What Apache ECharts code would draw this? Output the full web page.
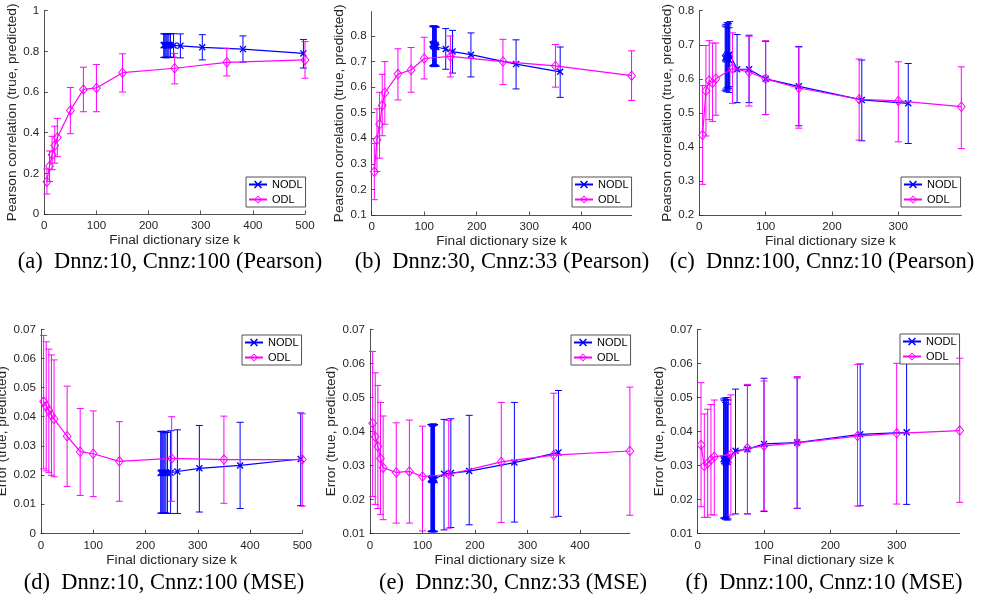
<!DOCTYPE html>
<html><head><meta charset="utf-8">
<script src="https://cdn.jsdelivr.net/npm/echarts@6/dist/echarts.min.js"></script>
<style>html,body{margin:0;padding:0;background:#fff}#c{width:985px;height:605px}</style>
</head><body><div id="c"></div>
<script>
// ---------- data ----------
const kOdlAD  = [5,10,15,20,25,50,75,100,150,250,350,500];
const kNodlAD = [229,231,233,235,237,239,242,248,261,303,381,497];
const aNodlMean = [0.830,0.833,0.829,0.831,0.828,0.832,0.830,0.829,0.827,0.820,0.811,0.790];
const aNodlLow  = [0.770,0.772,0.768,0.771,0.769,0.772,0.770,0.771,0.768,0.758,0.747,0.718];
const aNodlHigh = [0.886,0.888,0.885,0.887,0.884,0.888,0.886,0.887,0.886,0.882,0.876,0.858];
const aOdlMean  = [0.159,0.235,0.292,0.337,0.376,0.509,0.613,0.620,0.695,0.717,0.746,0.758];
const aOdlLow   = [0.098,0.160,0.218,0.250,0.282,0.395,0.503,0.503,0.600,0.640,0.679,0.668];
const aOdlHigh  = [0.222,0.310,0.382,0.432,0.470,0.622,0.722,0.735,0.788,0.790,0.815,0.848];

const dNodlMean = [0.0207,0.0209,0.0206,0.0208,0.0207,0.0209,0.0207,0.0208,0.0212,0.0223,0.0233,0.0255];
const dNodlLow  = [0.0069,0.0070,0.0068,0.0070,0.0069,0.0070,0.0068,0.0068,0.0068,0.0073,0.0085,0.0095];
const dNodlHigh = [0.0349,0.0350,0.0348,0.0350,0.0345,0.0348,0.0346,0.0352,0.0355,0.0370,0.0381,0.0413];
const dOdlMean  = [0.0452,0.0437,0.0421,0.0405,0.0392,0.0333,0.0280,0.0273,0.0247,0.0257,0.0253,0.0253];
const dOdlLow   = [0.0221,0.0214,0.0208,0.0199,0.0194,0.0161,0.0130,0.0126,0.0110,0.0110,0.0103,0.0093];
const dOdlHigh  = [0.0679,0.0657,0.0632,0.0612,0.0595,0.0505,0.0428,0.0420,0.0383,0.0400,0.0402,0.0410];

const kOdlBE  = [5,10,15,20,25,50,75,100,150,250,350,495];
const kNodlBE = [116,117,118,119,120,121,122,123,141,154,189,275,359];
const bNodlMean = [0.768,0.764,0.760,0.770,0.758,0.762,0.765,0.757,0.749,0.739,0.727,0.690,0.660];
const bNodlLow  = [0.683,0.685,0.680,0.688,0.682,0.684,0.686,0.681,0.670,0.655,0.640,0.593,0.560];
const bNodlHigh = [0.838,0.836,0.840,0.839,0.835,0.837,0.838,0.834,0.829,0.822,0.812,0.785,0.757];
const bOdlMean  = [0.269,0.393,0.455,0.528,0.578,0.651,0.667,0.712,0.720,0.700,0.683,0.645];
const bOdlLow   = [0.160,0.270,0.322,0.410,0.455,0.550,0.580,0.632,0.640,0.610,0.600,0.548];
const bOdlHigh  = [0.380,0.515,0.580,0.650,0.700,0.750,0.755,0.795,0.800,0.787,0.767,0.742];

const eNodlMean = [0.0260,0.0257,0.0259,0.0262,0.0256,0.0258,0.0261,0.0257,0.0275,0.0277,0.0283,0.0308,0.0338];
const eNodlLow  = [0.0105,0.0107,0.0104,0.0106,0.0108,0.0105,0.0104,0.0106,0.0110,0.0117,0.0125,0.0133,0.0150];
const eNodlHigh = [0.0420,0.0418,0.0421,0.0415,0.0419,0.0422,0.0417,0.0420,0.0435,0.0437,0.0447,0.0485,0.0520];
const eOdlMean  = [0.0424,0.0384,0.0355,0.0320,0.0293,0.0279,0.0282,0.0267,0.0273,0.0310,0.0330,0.0342];
const eOdlLow   = [0.0208,0.0185,0.0173,0.0155,0.0140,0.0130,0.0130,0.0107,0.0115,0.0132,0.0147,0.0153];
const eOdlHigh  = [0.0635,0.0572,0.0535,0.0485,0.0445,0.0425,0.0433,0.0415,0.0432,0.0485,0.0512,0.0530];

const kOdlCF  = [5,10,15,20,25,50,75,100,150,241,300,395];
const kNodlCF = [39,40,41,42,43,44,45,46,57,75,100,150,245,315];
const cNodlMean = [0.660,0.665,0.657,0.670,0.662,0.668,0.655,0.672,0.628,0.628,0.600,0.578,0.538,0.528];
const cNodlLow  = [0.565,0.570,0.562,0.575,0.567,0.572,0.560,0.577,0.530,0.530,0.495,0.462,0.418,0.410];
const cNodlHigh = [0.755,0.760,0.752,0.765,0.758,0.762,0.750,0.768,0.730,0.728,0.710,0.695,0.655,0.645];
const cOdlMean  = [0.435,0.565,0.595,0.588,0.600,0.630,0.620,0.600,0.573,0.540,0.535,0.518];
const cOdlLow   = [0.290,0.432,0.480,0.475,0.493,0.528,0.520,0.495,0.455,0.420,0.415,0.395];
const cOdlHigh  = [0.580,0.698,0.712,0.705,0.705,0.735,0.725,0.712,0.693,0.658,0.650,0.635];

const fNodlMean = [0.0318,0.0312,0.0320,0.0308,0.0315,0.0321,0.0310,0.0316,0.0343,0.0347,0.0363,0.0367,0.0391,0.0397];
const fNodlLow  = [0.0145,0.0143,0.0147,0.0140,0.0144,0.0148,0.0139,0.0142,0.0157,0.0157,0.0164,0.0173,0.0181,0.0185];
const fNodlHigh = [0.0495,0.0490,0.0498,0.0485,0.0493,0.0499,0.0480,0.0492,0.0524,0.0535,0.0556,0.0557,0.0598,0.0600];
const fOdlMean  = [0.0360,0.0298,0.0306,0.0316,0.0325,0.0332,0.0350,0.0357,0.0366,0.0386,0.0394,0.0402];
const fOdlLow   = [0.0178,0.0147,0.0147,0.0154,0.0154,0.0154,0.0157,0.0166,0.0174,0.0180,0.0186,0.0191];
const fOdlHigh  = [0.0543,0.0451,0.0465,0.0479,0.0492,0.0507,0.0538,0.0548,0.0561,0.0597,0.0600,0.0615];

// tick labels
const xTicks500 = [0,100,200,300,400,500];
const xTicks400 = [0,100,200,300,400];
const xTicks300 = [0,100,200,300];
const yTicksA = [0,0.2,0.4,0.6,0.8,1];
const yTicksB = [0.1,0.2,0.3,0.4,0.5,0.6,0.7,0.8];
const yTicksC = [0.2,0.3,0.4,0.5,0.6,0.7,0.8];
const yTicksD = [0,0.01,0.02,0.03,0.04,0.05,0.06,0.07];
const yTicksEF = [0.01,0.02,0.03,0.04,0.05,0.06,0.07];

const seriesNames = ['NODL','ODL'];
const xTitle = 'Final dictionary size k';
const yTitlePearson = 'Pearson correlation (true, predicted)';
const yTitleError = 'Error (true, predicted)';
const captions = ['(a)  Dnnz:10, Cnnz:100 (Pearson)','(b)  Dnnz:30, Cnnz:33 (Pearson)','(c)  Dnnz:100, Cnnz:10 (Pearson)',
                  '(d)  Dnnz:10, Cnnz:100 (MSE)','(e)  Dnnz:30, Cnnz:33 (MSE)','(f)  Dnnz:100, Cnnz:10 (MSE)'];

// ---------- layout ----------
const panels = [
 {g:{left:44.3,top:10.7,width:260.7,height:203.3}, xMax:500, yMin:0, yMax:1, xT:xTicks500, yT:yTicksA, yName:yTitlePearson, yGap:22.7,
  nk:kNodlAD, nm:aNodlMean, nl:aNodlLow, nh:aNodlHigh, ok:kOdlAD, om:aOdlMean, ol:aOdlLow, oh:aOdlHigh, leg:[246,177], cap:[170,262]},
 {g:{left:371.7,top:11.7,width:495*0.525,height:203.3}, xMax:495, yMin:0.1, yMax:0.895, xT:xTicks400, yT:yTicksB, yName:yTitlePearson, yGap:22.5,
  nk:kNodlBE, nm:bNodlMean, nl:bNodlLow, nh:bNodlHigh, ok:kOdlBE, om:bOdlMean, ol:bOdlLow, oh:bOdlHigh, leg:[572,177], cap:[502,262]},
 {g:{left:699.3,top:10.7,width:395*0.6633,height:204.3}, xMax:395, yMin:0.2, yMax:0.8, xT:xTicks300, yT:yTicksC, yName:yTitlePearson, yGap:22.5,
  nk:kNodlCF, nm:cNodlMean, nl:cNodlLow, nh:cNodlHigh, ok:kOdlCF, om:cOdlMean, ol:cOdlLow, oh:cOdlHigh, leg:[901,177], cap:[822,262]},
 {g:{left:41,top:329.3,width:261.3,height:204}, xMax:500, yMin:0, yMax:0.07, xT:xTicks500, yT:yTicksD, yName:yTitleError, yGap:28,
  nk:kNodlAD, nm:dNodlMean, nl:dNodlLow, nh:dNodlHigh, ok:kOdlAD, om:dOdlMean, ol:dOdlLow, oh:dOdlHigh, leg:[242,335], cap:[164,583]},
 {g:{left:370,top:329.3,width:495*0.525,height:204}, xMax:495, yMin:0.01, yMax:0.07, xT:xTicks400, yT:yTicksEF, yName:yTitleError, yGap:30,
  nk:kNodlBE, nm:eNodlMean, nl:eNodlLow, nh:eNodlHigh, ok:kOdlBE, om:eOdlMean, ol:eOdlLow, oh:eOdlHigh, leg:[571,335], cap:[513,583]},
 {g:{left:697.7,top:329.3,width:395*0.6633,height:204}, xMax:395, yMin:0.01, yMax:0.07, xT:xTicks300, yT:yTicksEF, yName:yTitleError, yGap:29.5,
  nk:kNodlCF, nm:fNodlMean, nl:fNodlLow, nh:fNodlHigh, ok:kOdlCF, om:fOdlMean, ol:fOdlLow, oh:fOdlHigh, leg:[900,334], cap:[824,583]}
];

const BLUE = '#0000ff', MAG = '#ff00ff', AX = '#262626';
const SANS = '"Liberation Sans", Arial, Helvetica, sans-serif';
const SERIF = '"Liberation Serif", "Times New Roman", serif';
const X_SYMBOL = 'path://M0,1.4L1.4,0L5,3.6L8.6,0L10,1.4L6.4,5L10,8.6L8.6,10L5,6.4L1.4,10L0,8.6L3.6,5Z';
const D_SYMBOL = 'path://M5,0L10,6L5,12L0,6Z M5,1.7L1.3,6L5,10.3L8.7,6Z';

function errSeries(name, color, k, low, high, i, z) {
  return {
    type:'custom', name:name, xAxisIndex:i, yAxisIndex:i, z:z, silent:true, clip:false,
    data: k.map((x,j)=>[x, low[j], high[j]]),
    encode:{x:0, y:[1,2]},
    renderItem:function(params, api){
      const x = api.value(0);
      const p1 = api.coord([x, api.value(1)]);
      const p2 = api.coord([x, api.value(2)]);
      const w = 3.5;
      const st = {stroke:color, lineWidth:1, fill:null};
      return {type:'group', children:[
        {type:'line', shape:{x1:p1[0],y1:p1[1],x2:p2[0],y2:p2[1]}, style:st},
        {type:'line', shape:{x1:p1[0]-w,y1:p1[1],x2:p1[0]+w,y2:p1[1]}, style:st},
        {type:'line', shape:{x1:p2[0]-w,y1:p2[1],x2:p2[0]+w,y2:p2[1]}, style:st}
      ]};
    }
  };
}

const grid=[], xAxis=[], yAxis=[], series=[], legend=[], graphic=[];
panels.forEach((p,i)=>{
  grid.push(Object.assign({outerBoundsMode:'none', containLabel:false}, p.g));
  xAxis.push({type:'value', gridIndex:i, min:0, max:p.xMax,
    name:xTitle, nameLocation:'middle', nameGap:19.5,
    nameTextStyle:{fontFamily:SANS, fontSize:13.7, color:AX},
    axisLine:{show:true, lineStyle:{color:AX, width:0.8}},
    axisTick:{show:true, inside:true, length:3.5, customValues:p.xT, lineStyle:{color:AX, width:0.8}},
    axisLabel:{customValues:p.xT, margin:6, fontFamily:SANS, fontSize:11.6, color:AX},
    splitLine:{show:false}});
  yAxis.push({type:'value', gridIndex:i, min:p.yMin, max:p.yMax,
    name:p.yName, nameLocation:'middle', nameGap:p.yGap, nameRotate:90,
    nameTextStyle:{fontFamily:SANS, fontSize:13.6, color:AX},
    axisLine:{show:true, lineStyle:{color:AX, width:0.8}},
    axisTick:{show:true, inside:true, length:3.5, customValues:p.yT, lineStyle:{color:AX, width:0.8}},
    axisLabel:{customValues:p.yT, margin:5, fontFamily:SANS, fontSize:11.6, color:AX},
    splitLine:{show:false}});
  series.push(errSeries('NODL-err-'+i, BLUE, p.nk, p.nl, p.nh, i, 2));
  series.push({type:'line', name:seriesNames[0], xAxisIndex:i, yAxisIndex:i, z:3, clip:false,
    data:p.nk.map((x,j)=>[x, p.nm[j]]), symbol:X_SYMBOL, symbolSize:7, showAllSymbol:true,
    lineStyle:{color:BLUE, width:1.2}, itemStyle:{color:BLUE}});
  series.push(errSeries('ODL-err-'+i, MAG, p.ok, p.ol, p.oh, i, 4));
  series.push({type:'line', name:seriesNames[1], xAxisIndex:i, yAxisIndex:i, z:5, clip:false,
    data:p.ok.map((x,j)=>[x, p.om[j]]), symbol:D_SYMBOL, symbolSize:[9,11], showAllSymbol:true,
    lineStyle:{color:MAG, width:1.2}, itemStyle:{color:MAG}});
  legend.push({data:seriesNames, orient:'vertical', left:p.leg[0], top:p.leg[1], selectedMode:false,
    backgroundColor:'#fff', borderColor:AX, borderWidth:0.8, padding:[2,3,2,2],
    itemWidth:18, itemHeight:10, itemGap:4,
    textStyle:{fontFamily:SANS, fontSize:11, color:'#000'}});
  graphic.push({type:'text', x:p.cap[0], y:p.cap[1], silent:true,
    style:{text:captions[i], fontFamily:SERIF, fontSize:22.5, fill:'#000', align:'center', verticalAlign:'middle'}});
});

const chart = echarts.init(document.getElementById('c'), null, {renderer:'canvas'});
chart.setOption({animation:false, backgroundColor:'#fff', grid, xAxis, yAxis, series, legend, graphic, tooltip:{show:false}});
</script></body></html>
